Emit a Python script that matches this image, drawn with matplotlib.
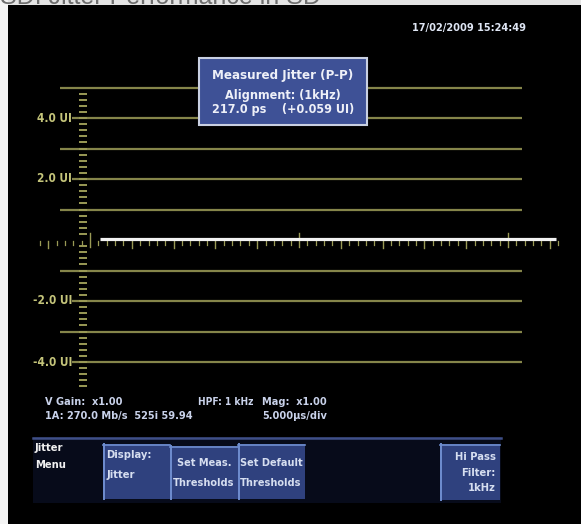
import matplotlib
matplotlib.use('Agg')
import matplotlib.pyplot as plt
import numpy as np
from matplotlib.patches import Rectangle
from matplotlib import font_manager

# ---------------- data ----------------
grid_ui = [5.0, 4.0, 3.0, 2.0, 1.0, -1.0, -2.0, -3.0, -4.0]
label_ui = [4.0, 2.0, -2.0, -4.0]
label_text = ['4.0 UI', '2.0 UI', '-2.0 UI', '-4.0 UI']
trace_div = [0.25, 2.0, 4.0, 6.0, 8.0, 10.0, 11.15]
trace_ui = [0.02, 0.02, 0.02, 0.02, 0.02, 0.02, 0.02]
meas_lines = ['Measured Jitter (P-P)', 'Alignment: (1kHz)', '217.0 ps    (+0.059 UI)']
timestamp = '17/02/2009 15:24:49'
status_left = ['V Gain:  x1.00', '1A: 270.0 Mb/s  525i 59.94']
status_mid = 'HPF: 1 kHz'
status_right = ['Mag:  x1.00', '5.000\u00b5s/div']
menu_title = ['Jitter', 'Menu']
title = 'SDI Jitter Performance in SD'

# ---------------- figure ----------------
W, H, DPI = 581, 524, 100
fig = plt.figure(figsize=(W / DPI, H / DPI), dpi=DPI, facecolor='black')

# choose a condensed face if one is installed
FAM = ['Liberation Sans', 'DejaVu Sans']
STRETCH = 'normal'
SCALE = 0.88
cond = [f for f in font_manager.fontManager.ttflist
        if str(f.stretch) in ('condensed', 'semi-condensed', 'extra-condensed')
        or 'Narrow' in f.name or 'Condensed' in f.name]
pref = ['Liberation Sans Narrow', 'DejaVu Sans', 'Roboto Condensed', 'Open Sans', 'Noto Sans', 'Roboto']
for p in pref:
    hits = [f for f in cond if f.name == p]
    if hits:
        FAM = [p, 'DejaVu Sans']
        st = str(hits[0].stretch)
        STRETCH = st if st in ('condensed', 'semi-condensed', 'extra-condensed') else 'normal'
        SCALE = 1.0
        break


def T(a, x, y, s, size, **kw):
    kw.setdefault('fontweight', 'bold')
    return a.text(x, y, s, fontsize=size * SCALE, family=FAM, fontstretch=STRETCH, **kw)


# pixel anchors of the scope graticule
X0PX, PX_DIV = 90.0, 41.8
Y0PX, PX_UI = 240.0, 30.5

# data axes (time divisions vs UI)
ax = fig.add_axes([0, 0, 1, 1])
ax.set_facecolor('black')
ax.set_xlim((0 - X0PX) / PX_DIV, (W - X0PX) / PX_DIV)
ax.set_ylim((Y0PX - H) / PX_UI, (Y0PX - 0) / PX_UI)
ax.axis('off')

GRID = '#85854a'
TICK = '#9a9a56'
LAB = '#c4c47a'

x_end = (522 - X0PX) / PX_DIV
for u in grid_ui:
    x_start = (72 - X0PX) / PX_DIV if u in label_ui else (60 - X0PX) / PX_DIV
    ax.plot([x_start, x_end], [u, u], color=GRID, lw=1.6, solid_capstyle='butt', zorder=2)

for u, t in zip(label_ui, label_text):
    T(ax, (72 - X0PX) / PX_DIV, u, t, 8.5, color=LAB, ha='right', va='center', zorder=3)

# vertical ruler ticks
ruler = np.round(np.arange(-4.8, 4.81, 0.2), 2)
for u in ruler:
    if abs(u) < 1e-6:
        continue
    ax.plot([(79 - X0PX) / PX_DIV, (87 - X0PX) / PX_DIV], [u, u], color=TICK, lw=1.4,
            solid_capstyle='butt', zorder=3)

# horizontal time-axis ticks
minor = np.round(np.arange(-1.2, 11.21, 0.2), 2)
for d in minor:
    if abs(d - round(d)) < 1e-6:
        di = int(round(d))
        if di % 5 == 0:
            ax.plot([d, d], [0.22, -0.22], color=TICK, lw=1.0, zorder=3)
        else:
            ax.plot([d, d], [-0.03, -0.25], color=TICK, lw=1.0, zorder=3)
    else:
        ax.plot([d, d], [-0.03, -0.15], color=TICK, lw=0.9, zorder=3)

# measured trace
ax.plot(trace_div, trace_ui, color='#f2f2f2', lw=2.3, solid_capstyle='butt', zorder=4)

# ---------------- overlay in pixel coordinates ----------------
px = fig.add_axes([0, 0, 1, 1], zorder=5)
px.set_xlim(0, W)
px.set_ylim(H, 0)
px.axis('off')
px.patch.set_alpha(0)

# page margins
px.add_patch(Rectangle((0, 0), W, 5, facecolor='#e4e4e4', edgecolor='none'))
px.add_patch(Rectangle((0, 0), 8, H, facecolor='#f4f4f4', edgecolor='none'))
px.text(0, 4, title, color='#6e6e6e', fontsize=18, family=['Liberation Sans', 'DejaVu Sans'],
        ha='left', va='baseline')

# timestamp
T(px, 412, 28, timestamp, 7.8, color='#dfe6f4', ha='left', va='center')

# measurement box
px.add_patch(Rectangle((199, 58), 168, 67, facecolor='#3e5196', edgecolor='#c9d0e2', lw=1.5))
for yy, s, fs in zip([75, 95, 110], meas_lines, [9.5, 9, 9]):
    T(px, 283, yy, s, fs, color='#eef0f8', ha='center', va='center')

# status text
STAT = '#c9d2ea'
T(px, 45, 402, status_left[0], 7.8, color=STAT, va='center')
T(px, 45, 416, status_left[1], 7.8, color=STAT, va='center')
T(px, 253, 402, status_mid, 7.3, color=STAT, va='center', ha='right')
T(px, 262, 402, status_right[0], 7.8, color=STAT, va='center')
T(px, 262, 416, status_right[1], 7.8, color=STAT, va='center')

# menu bar
px.add_patch(Rectangle((33, 437), 468, 66, facecolor='#070b1a', edgecolor='none'))
px.plot([33, 501], [437.5, 437.5], color='#3f4f88', lw=1.8)
T(px, 35, 448, menu_title[0], 8, color='#f0f0f0', va='center')
T(px, 35, 465, menu_title[1], 8, color='#f0f0f0', va='center')

BTN = '#2f417e'
EDGE = '#6f8ed0'
BT = '#d6def0'
buttons = [(103, 444, 67, 55), (170, 446, 68, 53), (238, 444, 67, 55), (440, 444, 60, 56)]
for (bx, by, bw, bh) in buttons:
    px.add_patch(Rectangle((bx, by), bw, bh, facecolor=BTN, edgecolor='none'))
    px.plot([bx + 0.5, bx + 0.5], [by, by + bh], color=EDGE, lw=1.4)
    px.plot([bx, bx + bw], [by + 0.5, by + 0.5], color=EDGE, lw=1.2)

T(px, 106, 455, 'Display:', 8, color=BT, va='center')
T(px, 106, 475, 'Jitter', 8, color=BT, va='center')
T(px, 204, 463, 'Set Meas.', 7.8, color=BT, va='center', ha='center')
T(px, 204, 483, 'Thresholds', 7.8, color=BT, va='center', ha='center')
T(px, 271, 463, 'Set Default', 7.8, color=BT, va='center', ha='center')
T(px, 271, 483, 'Thresholds', 7.8, color=BT, va='center', ha='center')
T(px, 496, 457, 'Hi Pass', 8, color=BT, va='center', ha='right')
T(px, 496, 473, 'Filter:', 8, color=BT, va='center', ha='right')
T(px, 496, 488, '1kHz', 8, color=BT, va='center', ha='right')

fig.savefig('out.png', dpi=DPI, facecolor='black')
